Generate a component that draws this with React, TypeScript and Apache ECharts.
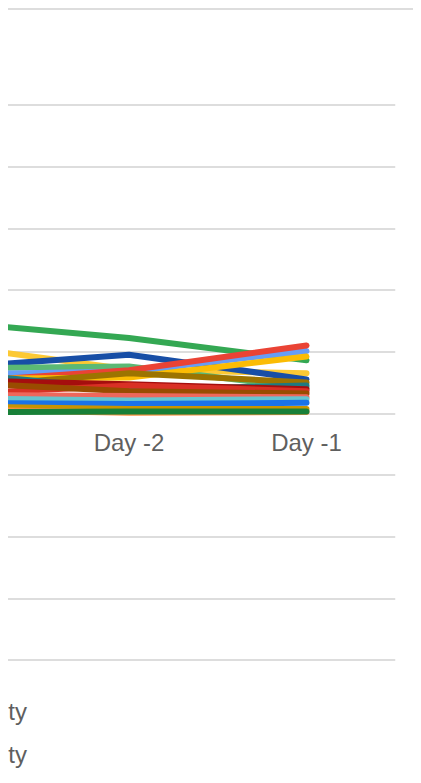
import React, { useEffect, useRef } from "react";
import * as echarts from "echarts";

const categories = ["Day -3", "Day -2", "Day -1"];

const seriesNames = [
  "Capacity",
  "Humidity",
  "Density",
  "Velocity",
  "Gravity",
  "Priority",
  "Security",
  "Quantity",
  "Activity",
  "Mobility",
  "Visibility",
  "Utility",
  "Liquidity",
  "Productivity",
  "Connectivity",
  "Elasticity",
  "Opacity",
  "Clarity",
];

const capacity = [14.8, 12.2, 8.6];
const humidity = [11.0, 7.1, 6.5];
const density = [7.4, 9.5, 5.5];
const velocity = [7.3, 7.6, 4.1];
const gravity = [6.3, 6.8, 10.1];
const priority = [5.0, 7.0, 11.0];
const security = [5.6, 5.8, 9.2];
const quantity = [4.2, 6.5, 5.0];
const activity = [6.5, 3.9, 4.5];
const mobility = [5.4, 4.7, 3.9];
const visibility = [3.1, 4.5, 3.6];
const utility = [5.0, 3.6, 3.2];
const liquidity = [3.0, 2.8, 2.6];
const productivity = [2.4, 2.1, 2.3];
const connectivity = [1.7, 1.5, 1.7];
const elasticity = [1.1, 0.7, 0.7];
const opacity = [0.6, 0.1, 0.2];
const clarity = [0.2, 0.3, 0.3];

const seriesValues = [
  capacity, humidity, density, velocity, gravity, priority, security, quantity, activity,
  mobility, visibility, utility, liquidity, productivity, connectivity, elasticity, opacity, clarity,
];

const palette = [
  "#34a853", "#fcc934", "#174ea6", "#5bb974", "#669df6", "#ea4335", "#fbbc04", "#9c7400", "#1f7a80",
  "#a50e0e", "#d93025", "#994c00", "#ee675c", "#65c4cf", "#1a73e8", "#c89400", "#fa903e", "#188038",
];

export default function App() {
  const ref = useRef<HTMLDivElement>(null);
  useEffect(() => {
    if (!ref.current) return;
    const chart = echarts.init(ref.current, null, { renderer: "svg" });
    chart.setOption({
      animation: false,
      color: palette,
      textStyle: { fontFamily: 'Arial, "Liberation Sans", sans-serif' },
      grid: {
        left: -145.25,
        right: 25.75,
        top: 97,
        bottom: 108,
        containLabel: false,
        outerBoundsMode: "none",
      },
      xAxis: {
        type: "category",
        data: categories,
        boundaryGap: true,
        position: "bottom",
        offset: -247,
        axisLine: { show: false, onZero: false },
        axisTick: { show: false },
        splitLine: { show: false },
        axisLabel: { color: "#5f5f5f", fontSize: 24, margin: 17 },
      },
      yAxis: {
        type: "value",
        min: -40,
        max: 50,
        interval: 10,
        axisLabel: { show: false },
        axisLine: { show: false },
        axisTick: { show: false },
        splitLine: { lineStyle: { color: "#dddddd", width: 2 } },
      },
      legend: {
        orient: "vertical",
        left: -105.4,
        top: 691.5,
        height: 3000,
        padding: 0,
        itemWidth: 25,
        itemHeight: 14,
        itemGap: 19,
        textStyle: { color: "#5f5f5f", fontSize: 24, lineHeight: 24 },
        data: seriesNames,
      },
      graphic: [
        {
          type: "line",
          shape: { x1: 0, y1: 1, x2: 600, y2: 1 },
          style: { stroke: "#dddddd", lineWidth: 2 },
        },
      ],
      series: seriesNames.map((name, i) => ({
        name,
        type: "line",
        data: seriesValues[i],
        symbol: "none",
        showSymbol: false,
        lineStyle: { width: 6, cap: "round", join: "round" },
      })),
    });
    return () => chart.dispose();
  }, []);
  return <div ref={ref} style={{ width: 413, height: 760, overflow: "hidden" }} />;
}
